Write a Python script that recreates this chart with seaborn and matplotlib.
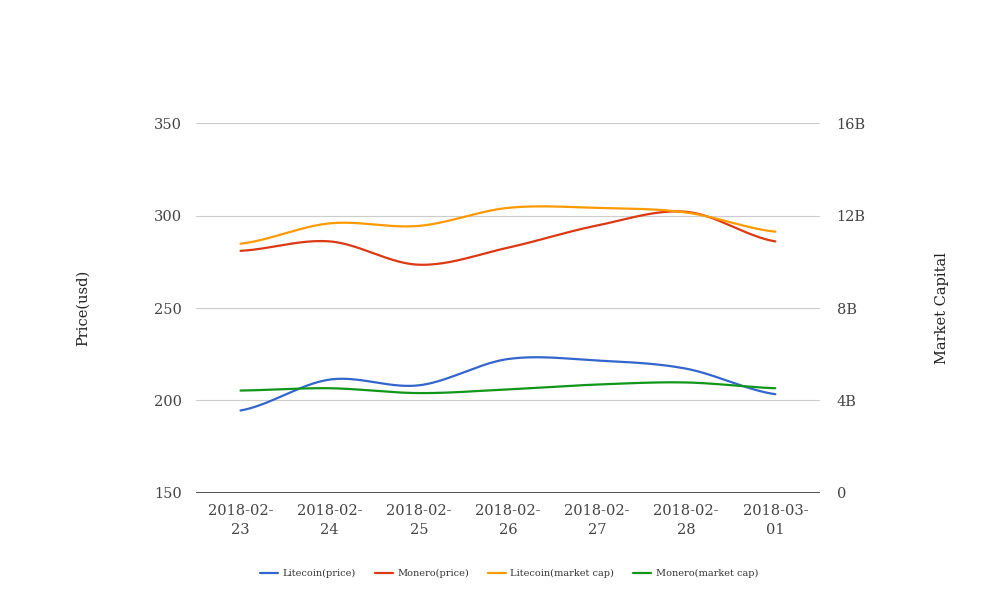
import numpy as np
import pandas as pd
import matplotlib
matplotlib.use("Agg")
import matplotlib.pyplot as plt
import seaborn as sns

dates = ['2018-02-23', '2018-02-24', '2018-02-25', '2018-02-26', '2018-02-27', '2018-02-28', '2018-03-01']
litecoin_price = [194.6, 211.3, 208.2, 222.4, 221.6, 217.2, 203.4]
monero_price = [280.9, 286.0, 273.4, 282.6, 294.6, 302.0, 286.0]
litecoin_mcap = [10.78e9, 11.66e9, 11.55e9, 12.33e9, 12.33e9, 12.13e9, 11.30e9]
monero_mcap = [4.43e9, 4.53e9, 4.32e9, 4.48e9, 4.69e9, 4.78e9, 4.53e9]

colors = {'Litecoin(price)': '#3366cc', 'Monero(price)': '#dc3912',
          'Litecoin(market cap)': '#ff9900', 'Monero(market cap)': '#109618'}


def smooth(vals, n=40):
    # catmull-rom through the points, x is just the category index
    y = np.asarray(vals, dtype=float)
    xs, ys = [], []
    for i in range(len(y) - 1):
        p0 = y[i - 1] if i > 0 else y[i]
        p1, p2 = y[i], y[i + 1]
        p3 = y[i + 2] if i + 2 < len(y) else y[i + 1]
        t = np.linspace(0, 1, n, endpoint=(i == len(y) - 2))
        seg = 0.5 * ((2 * p1) + (-p0 + p2) * t + (2 * p0 - 5 * p1 + 4 * p2 - p3) * t ** 2
                     + (-p0 + 3 * p1 - 3 * p2 + p3) * t ** 3)
        xs.append(i + t)
        ys.append(seg)
    return np.concatenate(xs), np.concatenate(ys)


sns.set_style("white")
plt.rcParams['font.family'] = ['DejaVu Serif']

fig = plt.figure(figsize=(10.08, 6.16), dpi=100)
ax = fig.add_axes([0.1944, 0.1997, 0.619, 0.6006])
ax2 = ax.twinx()

for name, vals, a in [('Litecoin(price)', litecoin_price, ax), ('Monero(price)', monero_price, ax),
                      ('Litecoin(market cap)', litecoin_mcap, ax2), ('Monero(market cap)', monero_mcap, ax2)]:
    sx, sy = smooth(vals)
    sns.lineplot(x=sx, y=sy, ax=a, color=colors[name], linewidth=1.6, label=name, legend=False)

ax.set_xlim(-0.5, len(dates) - 0.5)
ax.set_ylim(150, 350)
ax.set_yticks([150, 200, 250, 300, 350])
ax2.set_ylim(0, 16e9)
ax2.set_yticks([0, 4e9, 8e9, 12e9, 16e9])
ax2.set_yticklabels(['0', '4B', '8B', '12B', '16B'])
ax.set_xticks(range(len(dates)))
ax.set_xticklabels([d[:8] + '\n' + d[8:] for d in dates], linespacing=1.45)

ax.grid(axis='y', color='#cccccc', linewidth=0.8)
ax.set_axisbelow(True)
for a in (ax, ax2):
    for s in ('top', 'right', 'left', 'bottom'):
        a.spines[s].set_visible(False)
    a.tick_params(length=0, labelsize=10.5, labelcolor='#444444')
ax.axhline(150, color='#333333', linewidth=1.2, zorder=5)
ax.tick_params(axis='y', pad=10)
ax2.tick_params(axis='y', pad=12)
ax.tick_params(axis='x', pad=8)

ax.set_ylabel('Price(usd)', fontsize=10.5, color='#222222', labelpad=46)
ax2.set_ylabel('Market Capital', fontsize=10.5, color='#222222', labelpad=50)

handles = [plt.Line2D([], [], color=c, linewidth=1.6) for c in colors.values()]
fig.legend(handles, list(colors.keys()), loc='center', bbox_to_anchor=(0.505, 0.069), ncol=4,
           frameon=False, fontsize=7, handlelength=1.9, columnspacing=1.9, handletextpad=0.45,
           labelcolor='#333333')

fig.savefig('out.png', dpi=100)
